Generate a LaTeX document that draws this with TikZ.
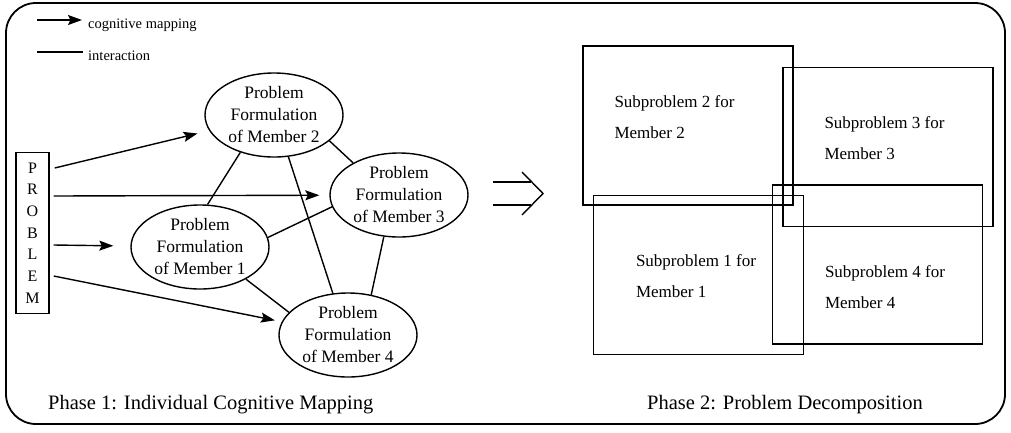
\documentclass[tikz,border=0pt]{standalone}
\usepackage{fontspec}
\setmainfont{Liberation Serif}
\usepackage{tikz}
\usetikzlibrary{positioning}
\usetikzlibrary{arrows.meta}
\usetikzlibrary{shapes.geometric}

\begin{document}
\begin{tikzpicture}[
		x=1pt, y=-1pt,
		formulation/.style={draw, ellipse, line width=1.4pt, minimum width=138pt, minimum height=84pt, inner sep=0pt, align=center, font=\fontsize{17.5}{22}\selectfont},
		subbox/.style={draw, rectangle, line width=1.4pt, minimum width=210pt, minimum height=159pt, inner sep=0pt},
		subtext/.style={anchor=west, inner sep=0pt, align=left, font=\fontsize{17}{31}\selectfont},
		phase/.style={anchor=west, inner sep=0pt, font=\fontsize{20.5}{24}\selectfont},
		legend/.style={anchor=west, inner sep=0pt, font=\fontsize{14.5}{16}\selectfont},
		arrow/.style={-{Stealth[length=14pt, width=10pt, inset=2.5pt]}, line width=1.4pt},
		link/.style={line width=1.4pt}
		]
		\useasboundingbox (0,0) rectangle (1011,432);
		% Frame
		\draw[line width=1.8pt, rounded corners=30pt] (6,3) rectangle (1005,424);
		
		% Legend
		\coordinate (map_a) at (37,20);
		\coordinate (map_b) at (82,20);
		\coordinate (int_a) at (37,52);
		\coordinate (int_b) at (83,52);
		\node[legend] (map_text) at (88,25) {cognitive mapping};
		\node[legend] (int_text) at (88,56) {interaction};
		\draw[arrow] (map_a) -- (map_b);
		\draw[link] (int_a) -- (int_b);
		
		% Phase 1 nodes
		\node[draw, rectangle, line width=1.4pt, minimum width=33pt, minimum height=161pt, inner sep=0pt, align=center, font=\fontsize{16}{21.7}\selectfont] (problem) at (32.5,233) {P\\R\\O\\B\\L\\E\\M};
		\node[formulation] (member1) at (200,247) {Problem\\Formulation\\of Member 1};
		\node[formulation] (member2) at (274,115) {Problem\\Formulation\\of Member 2};
		\node[formulation] (member3) at (399,195) {Problem\\Formulation\\of Member 3};
		\node[formulation] (member4) at (348,335) {Problem\\Formulation\\of Member 4};
		\node[phase] (phase1) at (48,405) {Phase 1: Individual Cognitive Mapping};
		
		% Arrows
		\draw[arrow, shorten >=12pt] ([shift={(5,-65)}]problem.east) -- (member2);
		\draw[arrow, shorten >=10pt] ([shift={(4,-37)}]problem.east) -- (member3);
		\draw[arrow, shorten >=17pt] ([shift={(4,12)}]problem.east) -- (member1);
		\draw[arrow, shorten >=7pt] ([shift={(4,43)}]problem.east) -- (member4);
		
		% Interaction
		\draw[link] (member2.228) -- (member1.80);
		\draw[link] (member2.335) -- (member3.145);
		\draw[link] (member2.289) -- (member4.110);
		\draw[link] (member1.8) -- (member3.190);
		\draw[link] (member1.325) -- (member4.159);
		\draw[link] (member3.250) -- (member4.60);
		
		% Transition
		\draw[link] (493,182) -- (531,182);
		\draw[link] (493,205) -- (531,205);
		\draw[link] (522,172) -- (543,193.5) -- (522,215);
		
		% Phase 2 nodes
		\node[subbox] (box2) at (688,125.5) {};
		\node[subbox] (box3) at (888,147) {};
		\node[subbox] (box1) at (698.5,275) {};
		\node[subbox] (box4) at (877.5,264.5) {};
		\node[subtext] (sub2) at ([shift={(32,-8)}]box2.west) {Subproblem 2 for\\Member 2};
		\node[subtext] (sub3) at ([shift={(42,-9)}]box3.west) {Subproblem 3 for\\Member 3};
		\node[subtext] (sub1) at ([shift={(43,1.5)}]box1.west) {Subproblem 1 for\\Member 1};
		\node[subtext] (sub4) at ([shift={(53,22.5)}]box4.west) {Subproblem 4 for\\Member 4};
		\node[phase] (phase2) at (647,405) {Phase 2: Problem Decomposition};
	\end{tikzpicture}
\end{document}
